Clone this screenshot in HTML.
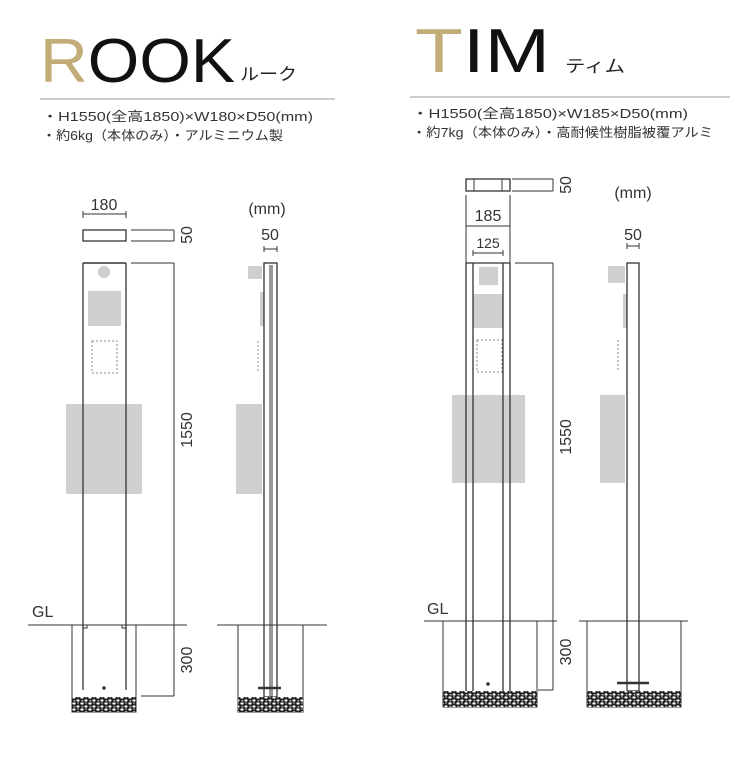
<!DOCTYPE html>
<html><head><meta charset="utf-8"><style>
body{margin:0;background:#fff;}
svg{display:block;}
text{font-family:"Liberation Sans","Noto Sans CJK JP",sans-serif;fill:#333;}
</style></head><body>
<svg width="740" height="766" viewBox="0 0 740 766" xmlns="http://www.w3.org/2000/svg">
<defs>
<pattern id="grv" width="8" height="6" patternUnits="userSpaceOnUse">
<rect width="8" height="6" fill="#222"/>
<ellipse cx="2" cy="1.5" rx="1.6" ry="1.1" fill="#fff"/>
<ellipse cx="6" cy="4.5" rx="1.5" ry="1.1" fill="#fff"/>
<ellipse cx="6" cy="1" rx="0.8" ry="0.6" fill="#ddd"/>
<ellipse cx="2.5" cy="4.8" rx="0.9" ry="0.7" fill="#ddd"/>
</pattern>
</defs>

<!-- ROOK header -->
<text x="40" y="82" font-size="62" textLength="195" lengthAdjust="spacingAndGlyphs"><tspan style="fill:#c2ac77">R</tspan><tspan style="fill:#111">OOK</tspan></text>
<text x="240" y="80" font-size="17" textLength="57" lengthAdjust="spacingAndGlyphs" style="fill:#222">ルーク</text>
<line x1="40" y1="99" x2="335" y2="99" stroke="#999" stroke-width="1"/>
<text x="42" y="121" font-size="13" textLength="271" lengthAdjust="spacingAndGlyphs">・H1550(全高1850)×W180×D50(mm)</text>
<text x="42" y="140" font-size="13" textLength="241" lengthAdjust="spacingAndGlyphs">・約6kg（本体のみ）・アルミニウム製</text>

<!-- TIM header -->
<text x="415" y="72" font-size="62" textLength="135" lengthAdjust="spacingAndGlyphs"><tspan style="fill:#c2ac77">T</tspan><tspan style="fill:#111">IM</tspan></text>
<text x="565" y="72" font-size="17" textLength="60" lengthAdjust="spacingAndGlyphs" style="fill:#222">ティム</text>
<line x1="410" y1="97" x2="730" y2="97" stroke="#999" stroke-width="1"/>
<text x="412" y="118" font-size="13" textLength="276" lengthAdjust="spacingAndGlyphs">・H1550(全高1850)×W185×D50(mm)</text>
<text x="412" y="137" font-size="13" textLength="301" lengthAdjust="spacingAndGlyphs">・約7kg（本体のみ）・高耐候性樹脂被覆アルミ</text>

<g stroke="#333" stroke-width="1" fill="none">
<!-- ROOK front -->
<text x="104" y="210" font-size="16" text-anchor="middle" stroke="none">180</text>
<line x1="83" y1="214" x2="126" y2="214"/>
<line x1="83" y1="211" x2="83" y2="218"/><line x1="126" y1="211" x2="126" y2="218"/>
<rect x="83" y="230" width="43" height="11" stroke-width="1.3"/>
<line x1="131" y1="230" x2="174" y2="230"/><line x1="131" y1="241" x2="174" y2="241"/>
<line x1="174" y1="230" x2="174" y2="241"/>
<text transform="translate(192,235) rotate(-90)" font-size="16" text-anchor="middle" stroke="none">50</text>
</g>
<g fill="#cfcfcf">
<rect x="66" y="404" width="76" height="90"/>
<rect x="88" y="291" width="33" height="35"/>
<circle cx="104" cy="272" r="6"/>
<rect x="236" y="404" width="26" height="90"/>
<rect x="248" y="266" width="14" height="13"/>
<rect x="260" y="292" width="4" height="34"/>
</g>
<g stroke="#333" stroke-width="1" fill="none">
<rect x="92" y="341" width="25" height="32" stroke="#888" stroke-dasharray="2,2"/>
<line x1="83" y1="263" x2="83" y2="690" stroke-width="1.3"/>
<line x1="126" y1="263" x2="126" y2="690" stroke-width="1.3"/>
<line x1="83" y1="263" x2="126" y2="263" stroke-width="1.5"/>
<line x1="131" y1="263" x2="174" y2="263"/>
<line x1="174" y1="263" x2="174" y2="696"/>
<line x1="141" y1="696" x2="174" y2="696"/>
<text transform="translate(192,430) rotate(-90)" font-size="16" text-anchor="middle" stroke="none">1550</text>
<text transform="translate(192,660) rotate(-90)" font-size="16" text-anchor="middle" stroke="none">300</text>
<text x="32" y="617" font-size="16" stroke="none">GL</text>
<line x1="28" y1="625" x2="187" y2="625"/>
<polyline points="72,625 72,712 136,712 136,625"/>
<rect x="83" y="625" width="4" height="3"/><rect x="122" y="625" width="4" height="3"/>
<circle cx="104" cy="688" r="1.3" fill="#333"/>
</g>
<rect x="72" y="697" width="64" height="15" fill="url(#grv)"/>

<!-- ROOK side -->
<g stroke="#333" stroke-width="1" fill="none">
<text x="267" y="214" font-size="16" text-anchor="middle" stroke="none">(mm)</text>
<text x="270" y="240" font-size="16" text-anchor="middle" stroke="none">50</text>
<line x1="264" y1="249" x2="277" y2="249"/>
<line x1="264" y1="246" x2="264" y2="252"/><line x1="277" y1="246" x2="277" y2="252"/>
<line x1="258" y1="341" x2="258" y2="373" stroke="#888" stroke-dasharray="2,2"/>
<rect x="264" y="263" width="13" height="434" stroke-width="1.3"/>
<line x1="270" y1="265" x2="270" y2="697"/>
<line x1="272" y1="265" x2="272" y2="697"/>
<line x1="217" y1="625" x2="327" y2="625"/>
<polyline points="238,625 238,712 303,712 303,625"/>
<line x1="258" y1="688" x2="281" y2="688" stroke-width="2.5"/>
</g>
<rect x="238" y="697" width="65" height="15" fill="url(#grv)"/>

<!-- TIM front -->
<g fill="#cfcfcf">
<rect x="452" y="395" width="73" height="88"/>
<rect x="473" y="294" width="30" height="34"/>
<rect x="479" y="267" width="19" height="18"/>
<rect x="600" y="395" width="25" height="88"/>
<rect x="608" y="266" width="17" height="17"/>
<rect x="623" y="294" width="4" height="34"/>
</g>
<g stroke="#333" stroke-width="1" fill="none">
<rect x="466" y="179" width="44" height="12" stroke-width="1.3"/>
<line x1="474" y1="179" x2="474" y2="191"/><line x1="502" y1="179" x2="502" y2="191"/>
<line x1="512" y1="179" x2="553" y2="179"/><line x1="512" y1="191" x2="553" y2="191"/>
<line x1="553" y1="179" x2="553" y2="191"/>
<text transform="translate(571,185) rotate(-90)" font-size="16" text-anchor="middle" stroke="none">50</text>
<text x="488" y="221" font-size="16" text-anchor="middle" stroke="none">185</text>
<line x1="466" y1="195" x2="466" y2="263"/><line x1="510" y1="195" x2="510" y2="263"/>
<line x1="466" y1="226" x2="510" y2="226"/>
<text x="488" y="248" font-size="14" text-anchor="middle" stroke="none">125</text>
<line x1="473" y1="253" x2="503" y2="253"/>
<line x1="473" y1="250" x2="473" y2="256"/><line x1="503" y1="250" x2="503" y2="256"/>
<rect x="477" y="340" width="25" height="32" stroke="#888" stroke-dasharray="2,2"/>
<line x1="466" y1="263" x2="466" y2="691" stroke-width="1.3"/>
<line x1="473" y1="263" x2="473" y2="691" stroke-width="1.3"/>
<line x1="503" y1="263" x2="503" y2="691" stroke-width="1.3"/>
<line x1="510" y1="263" x2="510" y2="691" stroke-width="1.3"/>
<line x1="466" y1="263" x2="510" y2="263" stroke-width="1.3"/>
<line x1="515" y1="263" x2="553" y2="263"/>
<line x1="553" y1="263" x2="553" y2="690"/>
<line x1="538" y1="690" x2="553" y2="690"/>
<text transform="translate(571,437) rotate(-90)" font-size="16" text-anchor="middle" stroke="none">1550</text>
<text transform="translate(571,652) rotate(-90)" font-size="16" text-anchor="middle" stroke="none">300</text>
<text x="427" y="614" font-size="16" stroke="none">GL</text>
<line x1="424" y1="621" x2="557" y2="621"/>
<polyline points="443,621 443,707 537,707 537,621"/>
<circle cx="488" cy="684" r="1.3" fill="#333"/>
</g>
<rect x="443" y="691" width="94" height="16" fill="url(#grv)"/>

<!-- TIM side -->
<g stroke="#333" stroke-width="1" fill="none">
<text x="633" y="198" font-size="16" text-anchor="middle" stroke="none">(mm)</text>
<text x="633" y="240" font-size="16" text-anchor="middle" stroke="none">50</text>
<line x1="627" y1="246" x2="639" y2="246"/>
<line x1="627" y1="243" x2="627" y2="249"/><line x1="639" y1="243" x2="639" y2="249"/>
<line x1="618" y1="340" x2="618" y2="372" stroke="#888" stroke-dasharray="2,2"/>
<rect x="627" y="263" width="12" height="428" stroke-width="1.3"/>
<line x1="579" y1="621" x2="688" y2="621"/>
<polyline points="587,621 587,707 681,707 681,621"/>
<line x1="617" y1="683" x2="649" y2="683" stroke-width="2.5"/>
</g>
<rect x="587" y="691" width="94" height="16" fill="url(#grv)"/>
</svg>
</body></html>
